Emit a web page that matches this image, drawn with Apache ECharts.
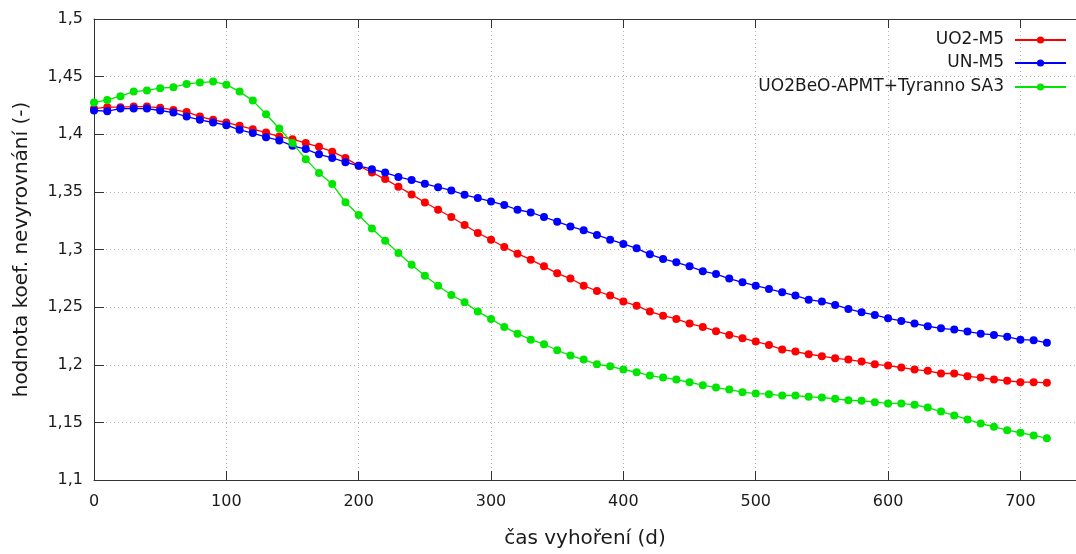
<!DOCTYPE html>
<html>
<head>
<meta charset="utf-8">
<script src="https://cdn.jsdelivr.net/npm/echarts@6/dist/echarts.min.js"></script>
<style>
  html, body { margin: 0; padding: 0; background: #fff; }
  #chart { width: 1076px; height: 554px; }
</style>
</head>
<body>
<div id="chart"></div>
<script>
// Burnup time in days
const days = [0, 10, 20, 30, 40, 50, 60, 70, 80, 90, 100, 110, 120, 130, 140, 150, 160, 170, 180, 190,
  200, 210, 220, 230, 240, 250, 260, 270, 280, 290, 300, 310, 320, 330, 340, 350, 360, 370, 380, 390,
  400, 410, 420, 430, 440, 450, 460, 470, 480, 490, 500, 510, 520, 530, 540, 550, 560, 570, 580, 590,
  600, 610, 620, 630, 640, 650, 660, 670, 680, 690, 700, 710, 720];

// Power peaking factor for each fuel/cladding variant
const uo2M5 = [1.4223, 1.4235, 1.4235, 1.4240, 1.4240, 1.4229, 1.4211, 1.4194, 1.4153, 1.4125,
  1.4102, 1.4073, 1.4044, 1.4015, 1.3980, 1.3957, 1.3923, 1.3891, 1.3849, 1.3795,
  1.3726, 1.3668, 1.3611, 1.3544, 1.3478, 1.3408, 1.3345, 1.3282, 1.3212, 1.3143,
  1.3085, 1.3022, 1.2964, 1.2912, 1.2854, 1.2793, 1.2748, 1.2686, 1.2640, 1.2600,
  1.2548, 1.2513, 1.2461, 1.2426, 1.2398, 1.2357, 1.2328, 1.2291, 1.2259, 1.2230,
  1.2201, 1.2172, 1.2132, 1.2114, 1.2091, 1.2074, 1.2056, 1.2045, 1.2028, 1.2004,
  1.1993, 1.1976, 1.1958, 1.1947, 1.1924, 1.1924, 1.1900, 1.1889, 1.1872, 1.1861,
  1.1849, 1.1849, 1.1843];

const unM5 = [1.4206, 1.4200, 1.4223, 1.4223, 1.4223, 1.4206, 1.4188, 1.4153, 1.4125, 1.4102,
  1.4079, 1.4038, 1.4010, 1.3975, 1.3946, 1.3900, 1.3871, 1.3826, 1.3794, 1.3758,
  1.3726, 1.3697, 1.3668, 1.3630, 1.3602, 1.3570, 1.3541, 1.3512, 1.3475, 1.3446,
  1.3417, 1.3386, 1.3345, 1.3322, 1.3282, 1.3241, 1.3200, 1.3166, 1.3126, 1.3085,
  1.3048, 1.3010, 1.2958, 1.2918, 1.2889, 1.2854, 1.2812, 1.2787, 1.2748, 1.2715,
  1.2686, 1.2658, 1.2628, 1.2600, 1.2565, 1.2548, 1.2519, 1.2484, 1.2455, 1.2432,
  1.2403, 1.2380, 1.2357, 1.2334, 1.2316, 1.2305, 1.2288, 1.2270, 1.2259, 1.2242,
  1.2218, 1.2213, 1.2190];

const uo2BeO = [1.4275, 1.4298, 1.4330, 1.4370, 1.4380, 1.4400, 1.4408, 1.4437, 1.4448, 1.4457,
  1.4430, 1.4370, 1.4292, 1.4174, 1.4050, 1.3923, 1.3784, 1.3663, 1.3568, 1.3410,
  1.3300, 1.3183, 1.3076, 1.2970, 1.2868, 1.2773, 1.2686, 1.2606, 1.2542, 1.2461,
  1.2398, 1.2328, 1.2270, 1.2218, 1.2178, 1.2126, 1.2080, 1.2045, 1.2004, 1.1987,
  1.1958, 1.1935, 1.1906, 1.1889, 1.1872, 1.1848, 1.1823, 1.1802, 1.1785, 1.1762,
  1.1750, 1.1745, 1.1733, 1.1733, 1.1722, 1.1716, 1.1704, 1.1692, 1.1687, 1.1675,
  1.1664, 1.1664, 1.1652, 1.1629, 1.1594, 1.1560, 1.1525, 1.1490, 1.1462, 1.1432,
  1.1410, 1.1387, 1.1363];

const seriesNames = ['UO2-M5', 'UN-M5', 'UO2BeO-APMT+Tyranno SA3'];
const seriesColors = ['#ff0000', '#0000ff', '#00e600'];
const seriesValues = [uo2M5, unM5, uo2BeO];

const FONT = 'DejaVu Sans';
const TEXT = '#1a1a1a';
const AXIS = '#333333';

const commaFmt = v => String(+(+v).toFixed(2)).replace('.', ',');

const chart = echarts.init(document.getElementById('chart'), null, { renderer: 'canvas' });

const series = seriesNames.map((name, i) => ({
  name,
  type: 'line',
  xAxisIndex: 0,
  data: days.map((d, k) => [d, seriesValues[i][k]]),
  symbol: 'circle',
  symbolSize: 8,
  showSymbol: true,
  lineStyle: { width: 1.3, color: seriesColors[i] },
  itemStyle: { color: seriesColors[i] },
  emphasis: { disabled: true },
  animation: false,
  z: 3 + i
}));

const legendTops = [31, 54, 78];
const legends = seriesNames.map((name, i) => ({
  data: [name],
  right: 9,
  top: legendTops[i],
  align: 'right',
  itemWidth: 51,
  itemHeight: 9,
  itemGap: 0,
  padding: 0,
  selectedMode: false,
  textStyle: { fontFamily: FONT, fontSize: 17, lineHeight: 18, color: TEXT, padding: [0, 6, 0, 0] }
}));

chart.setOption({
  backgroundColor: '#ffffff',
  animation: false,
  textStyle: { fontFamily: FONT },
  legend: legends,
  grid: { left: 94, right: 0, top: 19, bottom: 73, containLabel: false },
  xAxis: [{
    type: 'value',
    min: 0,
    max: 742,
    interval: 100,
    position: 'bottom',
    name: 'čas vyhoření (d)',
    nameLocation: 'middle',
    nameGap: 49,
    nameTextStyle: { fontFamily: FONT, fontSize: 20, color: TEXT },
    axisLine: { show: true, lineStyle: { color: AXIS, width: 1 } },
    axisTick: { show: true, inside: true, length: 9, lineStyle: { color: AXIS } },
    axisLabel: { fontFamily: FONT, fontSize: 16, color: TEXT, margin: 14, showMaxLabel: false },
    splitLine: { show: true, lineStyle: { color: '#b4b4b4', type: [1, 3], width: 1 } }
  }, {
    type: 'value',
    min: 0,
    max: 742,
    interval: 100,
    position: 'top',
    axisLine: { show: true, lineStyle: { color: AXIS, width: 1 } },
    axisTick: { show: true, inside: true, length: 9, lineStyle: { color: AXIS } },
    axisLabel: { show: false },
    splitLine: { show: false }
  }],
  yAxis: {
    type: 'value',
    min: 1.1,
    max: 1.5,
    interval: 0.05,
    name: 'hodnota koef. nevyrovnání (-)',
    nameLocation: 'middle',
    nameGap: 62,
    nameTextStyle: { fontFamily: FONT, fontSize: 20, color: TEXT },
    axisLine: { show: true, lineStyle: { color: AXIS, width: 1 } },
    axisTick: { show: true, inside: true, length: 10, lineStyle: { color: AXIS } },
    axisLabel: { fontFamily: FONT, fontSize: 16, color: TEXT, margin: 11, formatter: commaFmt },
    splitLine: { show: true, lineStyle: { color: '#b4b4b4', type: [1, 3], width: 1 } }
  },
  series
});
</script>
</body>
</html>
